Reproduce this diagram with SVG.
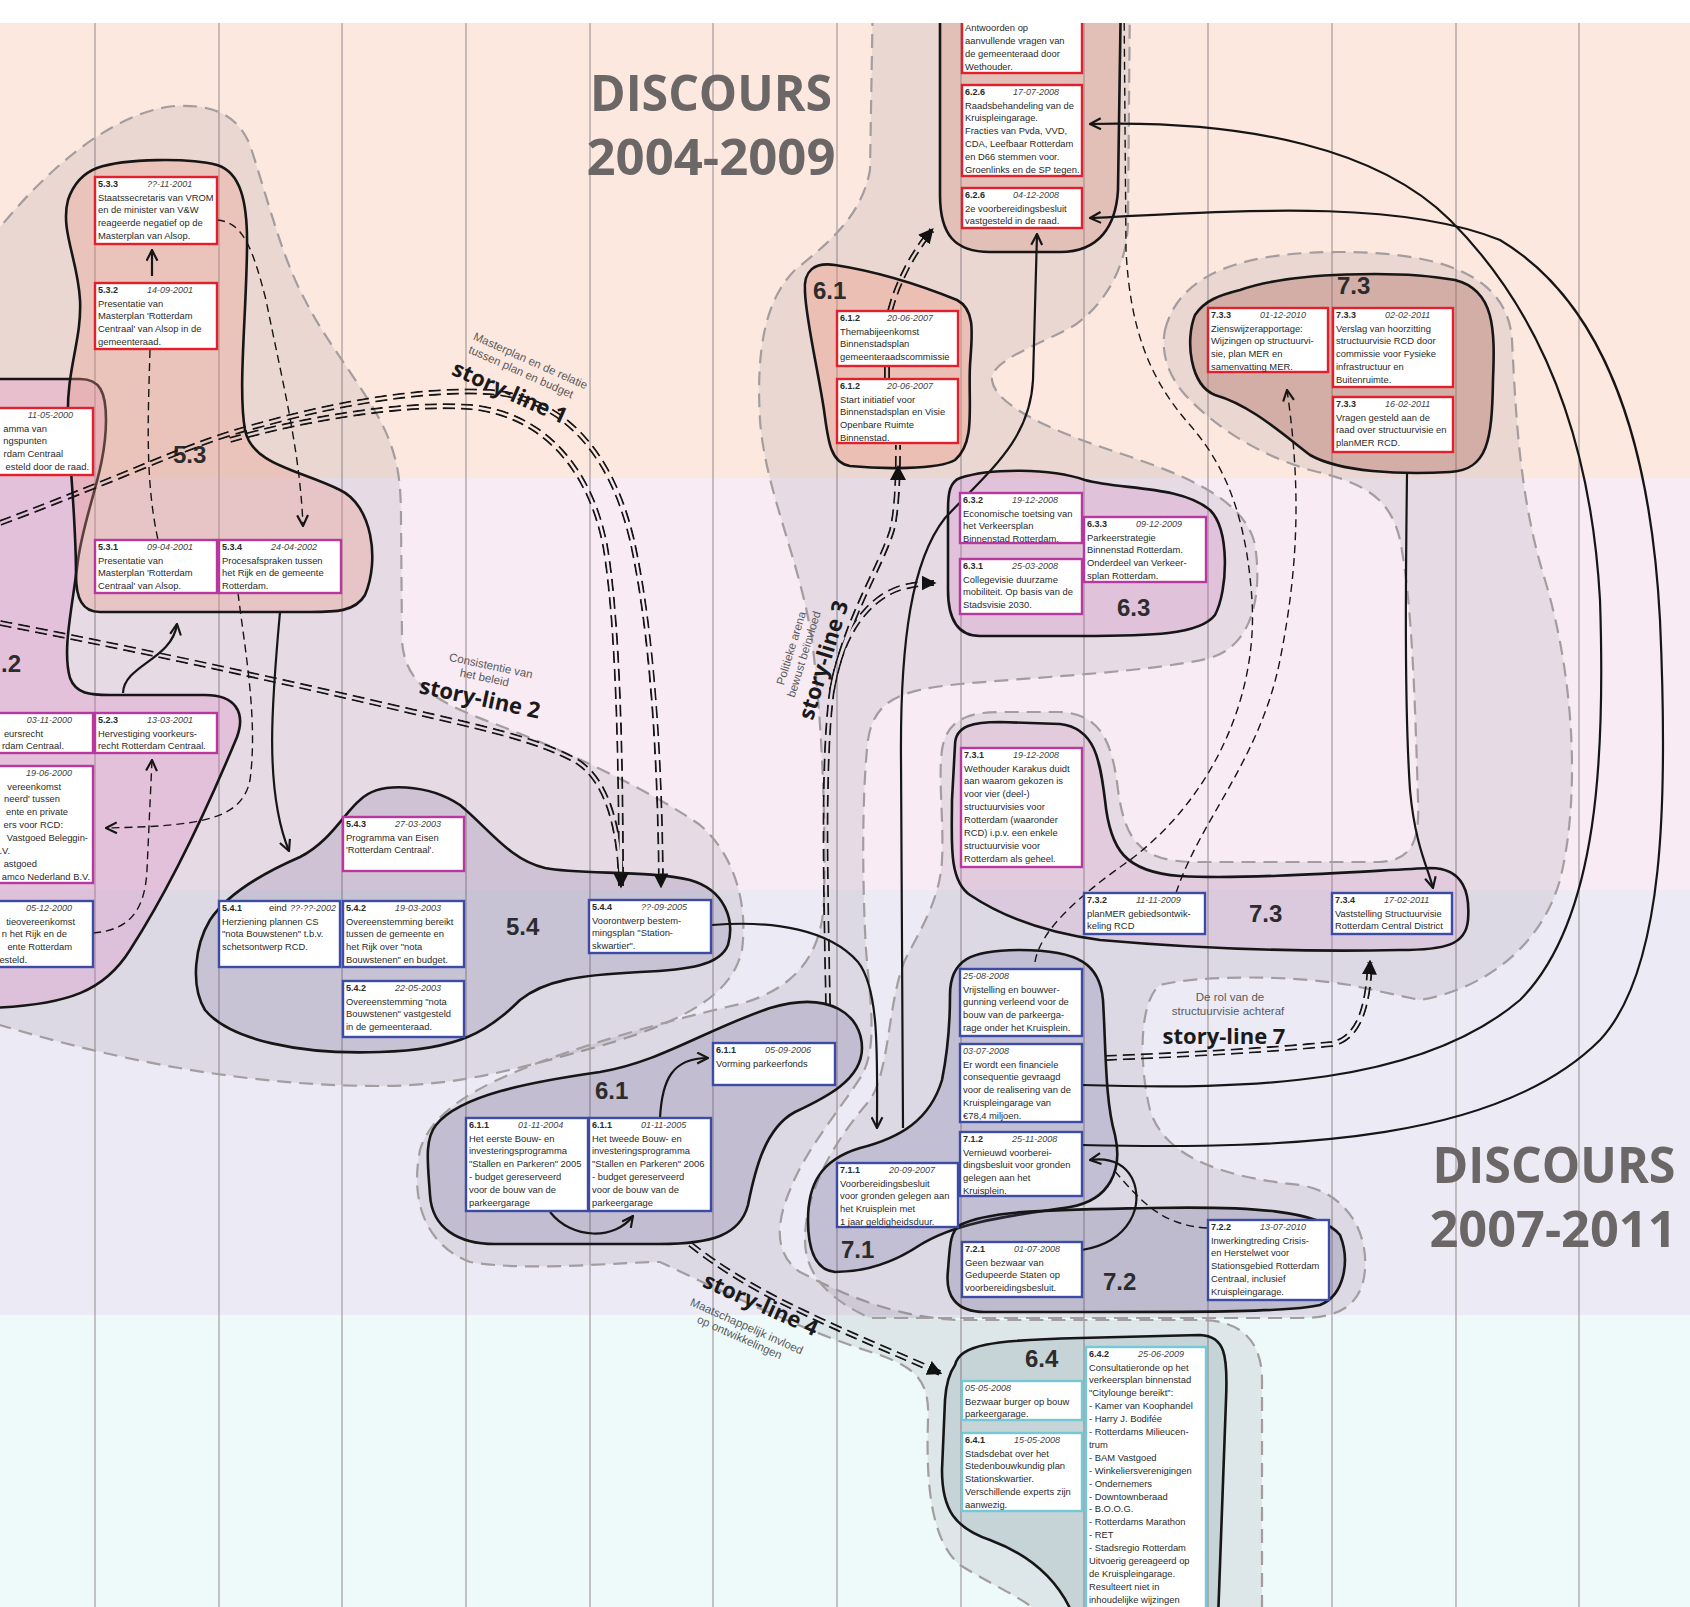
<svg xmlns="http://www.w3.org/2000/svg" width="1690" height="1607" viewBox="0 0 1690 1607">
<defs>
<style>
.vl{stroke:#8b8085;stroke-width:1.3;opacity:.7}
.halo{fill:#5e5060;fill-opacity:.11;stroke:#a39da0;stroke-width:2.2;stroke-dasharray:14 8}
.cl{stroke:#161616;stroke-width:2.6}
.ln{fill:none;stroke:#161616;stroke-width:2.2}
.dl{fill:none;stroke:#161616;stroke-width:1.4;stroke-dasharray:8 5}
.sl{fill:none;stroke:#161616;stroke-width:6;stroke-dasharray:12 6}
.bx{fill:#fff;stroke-width:2.4}
.r{stroke:#e21f2c}.m{stroke:#b8389f}.b{stroke:#3c4ba6}.c{stroke:#74c9d7}
.t{font-family:"Liberation Sans",Arial,sans-serif;font-size:9.4px;fill:#2a2a2a}
.id{font-family:"Liberation Sans",Arial,sans-serif;font-size:9px;font-weight:bold;fill:#2a2a2a}
.dt{font-family:"Liberation Sans",Arial,sans-serif;font-size:9px;font-style:italic;fill:#444}
.lab{font-family:"Liberation Sans",Arial,sans-serif;font-size:24px;font-weight:bold;fill:#2c2c2c}
.ttl{font-family:"Open Sans","Liberation Sans",sans-serif;font-size:51px;font-weight:bold;fill:#6c6767}
.sln{font-family:"Open Sans","Liberation Sans",sans-serif;font-size:22px;font-weight:bold;fill:#1a1a1a}
.sld{font-family:"Liberation Sans",Arial,sans-serif;font-size:11.5px;fill:#5a5a5a}
</style>
<marker id="chev" viewBox="0 0 12 12" refX="11" refY="6" markerWidth="13" markerHeight="13" orient="auto" markerUnits="userSpaceOnUse"><path d="M1,1 L11,6 L1,11" fill="none" stroke="#161616" stroke-width="2"/></marker>
<marker id="tri" viewBox="0 0 12 12" refX="10" refY="6" markerWidth="15" markerHeight="15" orient="auto" markerUnits="userSpaceOnUse"><path d="M0,0 L12,6 L0,12 Z" fill="#111"/></marker>
<!-- story-line routes (drawn as double dashed lines) -->
<path id="sl1a" d="M 0,523 C 30,512 60,500 85,490 C 150,465 200,440 260,425 C 330,405 420,388 490,392 C 565,398 612,455 632,540 C 652,630 660,760 661,886"/>
<path id="sl1b" d="M 230,440 C 300,420 400,402 470,407 C 545,414 590,470 605,545 C 618,620 621,760 621,886"/>
<path id="sl2" d="M 0,623 C 150,652 300,685 410,711 C 480,727 540,740 578,762 C 608,782 620,830 621,886"/>
<path id="sl3a" d="M 828,1005 C 826,900 822,760 832,690 C 842,630 870,598 900,588 C 915,584 925,583 934,583"/>
<path id="sl3b" d="M 832,690 C 845,620 882,565 892,530 C 897,510 898,480 898,445"/>
<path id="sl3c" d="M 887,366 L 887,379"/>
<path id="sl3d" d="M 890,311 C 898,280 915,250 932,230"/>
<path id="sl4" d="M 690,1244 C 720,1268 760,1292 803,1312 C 850,1335 900,1355 940,1373"/>
<path id="sl7" d="M 1105,1058 C 1180,1055 1270,1050 1332,1044 C 1360,1038 1368,1005 1370,962"/>
<mask id="dbl" maskUnits="userSpaceOnUse" x="0" y="0" width="1690" height="1607">
<g fill="none" stroke="#fff" stroke-width="6.5">
<use href="#sl1a"/><use href="#sl1b"/><use href="#sl2"/><use href="#sl3a"/><use href="#sl3b"/><use href="#sl3c"/><use href="#sl3d"/><use href="#sl4"/><use href="#sl7"/>
</g>
<g fill="none" stroke="#000" stroke-width="2.4">
<use href="#sl1a"/><use href="#sl1b"/><use href="#sl2"/><use href="#sl3a"/><use href="#sl3b"/><use href="#sl3c"/><use href="#sl3d"/><use href="#sl4"/><use href="#sl7"/>
</g>
</mask>
</defs>

<!-- background bands and column grid -->
<g id="background">
<rect x="0" y="0" width="1690" height="1607" fill="#fff"/>
<rect x="0" y="23" width="1690" height="455" fill="#fde8e0"/>
<rect x="0" y="478" width="1690" height="412" fill="#f8ebf4"/>
<rect x="0" y="890" width="1690" height="425" fill="#eceaf4"/>
<rect x="0" y="1315" width="1690" height="292" fill="#eef9f9"/>
<g class="vl">
<line x1="95" y1="23" x2="95" y2="1607"/><line x1="219" y1="23" x2="219" y2="1607"/><line x1="342" y1="23" x2="342" y2="1607"/><line x1="466" y1="23" x2="466" y2="1607"/><line x1="590" y1="23" x2="590" y2="1607"/><line x1="713" y1="23" x2="713" y2="1607"/><line x1="837" y1="23" x2="837" y2="1607"/><line x1="961" y1="23" x2="961" y2="1607"/><line x1="1084" y1="23" x2="1084" y2="1607"/><line x1="1208" y1="23" x2="1208" y2="1607"/><line x1="1332" y1="23" x2="1332" y2="1607"/><line x1="1456" y1="23" x2="1456" y2="1607"/><line x1="1579" y1="23" x2="1579" y2="1607"/>
</g>
</g>

<!-- discourse halos -->
<g id="halos">
<path class="halo" d="M -10,240 C 40,175 110,112 175,106 C 215,104 238,116 250,145 C 268,200 282,258 305,300 C 325,340 355,375 380,420 C 398,455 401,480 401,520 L 402,640 C 404,680 430,700 490,722 C 560,748 650,790 700,825 C 735,855 748,905 742,950 C 733,992 690,1020 600,1046 C 520,1068 460,1086 380,1086 C 250,1086 120,1062 -10,1022 Z"/>
<path class="halo" d="M 873,-10 L 870,170 C 862,215 830,242 795,270 C 765,300 756,350 760,420 C 765,490 800,560 812,640 C 822,720 826,820 824,900 C 822,960 790,990 740,1004 C 670,1020 600,1040 540,1062 C 480,1085 432,1110 420,1150 C 410,1200 425,1245 470,1262 C 530,1272 620,1262 660,1262 C 720,1290 800,1330 880,1355 C 915,1368 930,1380 928,1420 C 926,1480 930,1540 960,1565 C 1000,1590 1030,1600 1045,1620 L 1262,1620 L 1262,1380 C 1262,1340 1240,1320 1200,1320 L 960,1320 C 900,1318 850,1298 800,1272 C 775,1255 775,1225 790,1190 C 805,1150 840,1110 862,1075 C 878,1045 870,1000 866,950 C 862,880 862,790 868,740 C 874,700 900,690 960,684 C 1050,676 1150,672 1210,658 C 1255,645 1262,590 1255,545 C 1245,495 1170,470 1110,450 C 1050,430 995,405 992,380 C 990,360 1040,345 1075,325 C 1110,300 1128,260 1128,220 L 1130,-10 Z"/>
<path class="halo" d="M 1165,330 C 1180,270 1250,252 1340,252 C 1440,252 1508,275 1512,340 C 1516,420 1520,500 1545,580 C 1575,680 1580,800 1560,880 C 1540,950 1480,990 1420,1000 L 1350,985 C 1290,975 1200,975 1160,985 C 1140,1000 1138,1060 1150,1110 C 1165,1160 1230,1178 1300,1185 C 1345,1192 1368,1230 1365,1270 C 1362,1305 1340,1318 1300,1318 L 870,1318 C 830,1300 805,1275 805,1240 C 805,1190 835,1140 870,1100 C 890,1070 888,1000 905,960 C 920,930 940,900 942,860 C 944,820 938,780 942,750 C 946,722 965,712 1000,712 L 1060,712 C 1100,714 1112,740 1118,790 C 1125,840 1140,860 1190,862 L 1380,862 C 1410,860 1420,845 1418,800 C 1415,700 1412,600 1400,540 C 1390,495 1360,482 1310,470 C 1260,455 1220,430 1190,400 C 1170,380 1160,355 1165,330 Z"/>
</g>

<!-- clusters -->
<g id="clusters">
<g id="cluster-5-2"><path class="cl" fill="#e07ac0" fill-opacity=".26" d="M -10,379 L 80,379 C 100,379 106,392 106,420 C 106,470 85,510 78,560 C 72,610 62,650 70,678 C 76,694 90,695 110,695 L 205,695 C 235,695 246,712 237,737 C 215,790 175,880 130,950 C 105,990 70,1005 -10,1008 Z"/><text class="lab" x="1" y="672">.2</text></g>
<g id="cluster-5-3"><path class="cl" fill="#eb9c8a" fill-opacity=".33" d="M 97,168 C 125,158 190,158 217,165 C 240,172 248,200 247,250 C 246,320 238,390 245,430 C 252,465 300,470 340,490 C 372,505 380,560 365,595 C 355,612 335,612 310,612 L 100,612 C 82,612 76,598 76,575 C 76,520 70,470 68,420 C 66,370 82,340 80,300 C 78,260 60,230 68,200 C 74,182 84,173 97,168 Z"/><text class="lab" x="173" y="463">5.3</text></g>
<g id="cluster-5-4"><path class="cl" fill="#6a5a8a" fill-opacity=".18" d="M 360,800 C 380,780 430,785 460,805 C 490,830 510,860 545,868 C 580,875 650,870 690,880 C 725,890 735,920 728,945 C 720,965 690,970 640,972 C 580,975 545,980 520,1000 C 490,1030 460,1050 380,1052 C 300,1055 230,1040 205,1010 C 190,985 195,945 210,920 C 230,890 270,870 300,857 C 330,842 345,812 360,800 Z"/><text class="lab" x="506" y="935">5.4</text></g>
<g id="cluster-6-1-top"><path class="cl" fill="#ec9c84" fill-opacity=".4" d="M 805,292 C 803,270 815,262 835,265 C 880,272 925,287 957,300 C 976,310 972,335 970,365 C 968,405 976,442 955,460 C 938,470 880,469 850,466 C 830,463 828,440 824,410 C 818,370 806,320 805,292 Z"/><text class="lab" x="813" y="299">6.1</text></g>
<g id="cluster-6-2"><path class="cl" fill="#d3907f" fill-opacity=".32" d="M 940,-10 L 940,195 C 940,235 955,252 990,252 L 1060,252 C 1100,252 1116,225 1118,190 L 1121,-10 Z"/></g>
<g id="cluster-7-3-top"><path class="cl" fill="#a8665a" fill-opacity=".36" d="M 1240,290 C 1290,272 1400,270 1455,280 C 1495,290 1495,330 1493,380 C 1492,440 1488,470 1450,472 C 1400,475 1340,472 1310,455 C 1280,432 1250,405 1215,395 C 1190,385 1185,340 1195,315 C 1205,300 1220,295 1240,290 Z"/><text class="lab" x="1337" y="294">7.3</text></g>
<g id="cluster-6-3"><path class="cl" fill="#d07ac0" fill-opacity=".25" d="M 960,478 C 990,468 1050,468 1085,480 C 1120,490 1180,485 1210,510 C 1230,530 1228,590 1215,615 C 1200,635 1150,636 1080,636 L 980,636 C 955,636 948,615 948,590 L 948,510 C 948,492 950,482 960,478 Z"/><text class="lab" x="1117" y="616">6.3</text></g>
<g id="cluster-7-3-mid"><path class="cl" fill="#d890c8" fill-opacity=".2" d="M 955,745 C 955,725 975,722 1000,722 L 1060,724 C 1095,728 1100,760 1105,800 C 1110,850 1125,872 1180,876 C 1250,880 1380,870 1430,868 C 1465,868 1470,895 1468,920 C 1466,945 1445,950 1400,950 C 1300,952 1190,948 1100,940 C 1040,932 1000,915 970,895 C 948,880 952,840 952,800 Z"/><text class="lab" x="1249" y="922">7.3</text></g>
<g id="cluster-6-1-bottom"><path class="cl" fill="#5a4f86" fill-opacity=".2" d="M 436,1125 C 460,1095 530,1082 600,1072 C 660,1062 705,1030 770,1008 C 830,990 862,1015 862,1048 C 862,1080 825,1098 795,1112 C 765,1128 755,1170 748,1205 C 740,1235 712,1244 660,1244 L 495,1244 C 458,1244 432,1228 430,1195 C 428,1165 424,1140 436,1125 Z"/><text class="lab" x="595" y="1099">6.1</text></g>
<g id="cluster-7-1"><path class="cl" fill="#5a5590" fill-opacity=".2" d="M 950,995 C 950,960 970,950 1020,950 C 1080,950 1100,965 1103,1000 C 1106,1050 1105,1100 1115,1135 C 1123,1170 1110,1200 1070,1207 C 1020,1215 960,1220 920,1245 C 890,1265 860,1272 835,1272 C 815,1270 808,1250 808,1220 C 808,1185 820,1160 860,1148 C 900,1138 930,1120 942,1080 C 948,1050 950,1020 950,995 Z"/><text class="lab" x="841" y="1258">7.1</text></g>
<g id="cluster-7-2"><path class="cl" fill="#55507e" fill-opacity=".22" d="M 960,1225 C 990,1210 1050,1210 1150,1208 C 1250,1206 1320,1210 1340,1235 C 1350,1260 1345,1295 1320,1305 C 1290,1312 1200,1312 1100,1312 L 985,1312 C 955,1312 945,1295 948,1270 C 950,1245 950,1232 960,1225 Z"/><text class="lab" x="1103" y="1290">7.2</text></g>
<g id="cluster-6-4"><path class="cl" fill="#5f7a80" fill-opacity=".17" d="M 955,1365 C 960,1345 990,1340 1080,1338 L 1200,1335 C 1225,1336 1228,1355 1226,1400 L 1218,1620 L 1075,1620 C 1060,1580 1030,1555 990,1540 C 955,1528 942,1510 942,1470 L 945,1400 C 946,1385 950,1372 955,1365 Z"/><text class="lab" x="1025" y="1367">6.4</text></g>
</g>

<!-- connectors -->
<g id="connectors">
<g mask="url(#dbl)" class="sl">
<use href="#sl1a"/><use href="#sl1b"/><use href="#sl2"/><use href="#sl3a"/><use href="#sl3b"/><use href="#sl3c"/><use href="#sl3d"/><use href="#sl4"/><use href="#sl7"/>
</g>
<g fill="none" stroke="none">
<use href="#sl1a" marker-end="url(#tri)"/><use href="#sl1b" marker-end="url(#tri)"/><use href="#sl3a" marker-end="url(#tri)"/><use href="#sl3d" marker-end="url(#tri)"/><use href="#sl4" marker-end="url(#tri)"/><use href="#sl7" marker-end="url(#tri)"/>
</g>
<polygon points="898,465 890,480 906,480" fill="#111"/>
<g class="ln" marker-end="url(#chev)">
<path d="M 152,276 L 152,250"/>
<path d="M 123,693 C 124,665 172,660 177,624"/>
<path d="M 280,612 C 272,700 264,790 289,851"/>
<path d="M 712,925 C 775,920 830,930 858,962 C 880,990 877,1060 877,1128"/>
<path d="M 903,1128 L 901,760 C 900,640 912,560 945,518 C 990,470 1030,440 1033,380 L 1037,234"/>
<path d="M 660,1118 C 662,1080 672,1058 708,1058"/>
<path d="M 550,1212 C 572,1240 615,1240 633,1216"/>
<path d="M 1082,1085 C 1250,1090 1420,1085 1520,1000 C 1600,920 1605,750 1600,600 C 1590,420 1530,300 1450,220 C 1380,150 1250,120 1090,124"/>
<path d="M 1082,1145 C 1300,1150 1500,1140 1600,1040 C 1665,970 1668,800 1660,620 C 1650,430 1600,300 1500,240 C 1400,200 1250,210 1090,218"/>
<path d="M 1082,1250 C 1130,1242 1145,1205 1132,1178 C 1122,1160 1105,1158 1090,1160"/>
<path d="M 1407,474 C 1406,560 1404,700 1410,790 C 1415,845 1428,868 1433,888"/>
</g>
<g class="dl">
<path d="M 217,220 C 242,222 252,245 266,300 C 282,380 300,450 303,526" marker-end="url(#chev)"/>
<path d="M 150,350 C 148,420 145,480 158,540"/>
<path d="M 238,593 C 245,650 258,720 250,780 C 242,820 200,826 106,828" marker-end="url(#chev)"/>
<path d="M 93,933 C 130,930 145,910 147,870 L 152,760" marker-end="url(#chev)"/>
<path d="M 1207,1228 C 1160,1225 1140,1200 1112,1168"/>
<path d="M 1176,893 C 1200,820 1260,760 1280,660 C 1300,560 1300,480 1287,390" marker-end="url(#chev)"/>
<path d="M 1035,962 C 1040,930 1080,895 1130,860 C 1210,800 1258,700 1252,600 C 1246,510 1222,462 1190,425 C 1150,380 1130,330 1126,250 L 1124,0"/>
</g>
</g>

<!-- event nodes -->
<g id="nodes">
<g id="n-5-3-3"><rect class="bx r" x="95" y="177" width="122" height="67"/><text class="id" x="98" y="187">5.3.3</text><text class="dt" x="147" y="187">??-11-2001</text><text class="t" y="200.5"><tspan x="98">Staatssecretaris van VROM</tspan><tspan x="98" dy="12.9">en de minister van V&amp;W</tspan><tspan x="98" dy="12.9">reageerde negatief op de</tspan><tspan x="98" dy="12.9">Masterplan van Alsop.</tspan></text></g>
<g id="n-5-3-2"><rect class="bx r" x="95" y="283" width="122" height="66"/><text class="id" x="98" y="293">5.3.2</text><text class="dt" x="147" y="293">14-09-2001</text><text class="t" y="306.5"><tspan x="98">Presentatie van</tspan><tspan x="98" dy="12.9">Masterplan 'Rotterdam</tspan><tspan x="98" dy="12.9">Centraal' van Alsop in de</tspan><tspan x="98" dy="12.9">gemeenteraad.</tspan></text></g>
<g id="n-5-2-1"><rect class="bx r" x="-29" y="408" width="122" height="67"/><text class="dt" x="73" y="418" text-anchor="end">11-05-2000</text><text class="t" text-anchor="end"><tspan x="47" y="431.5">amma van</tspan><tspan x="47" y="444.4">ngspunten</tspan><tspan x="63" y="457.3">rdam Centraal</tspan><tspan x="89" y="470.2">esteld door de raad.</tspan></text></g>
<g id="n-6-2-x"><rect class="bx r" x="962" y="-10" width="120" height="83"/><text class="t" y="31"><tspan x="965">Antwoorden op</tspan><tspan x="965" dy="12.9">aanvullende vragen van</tspan><tspan x="965" dy="12.9">de gemeenteraad door</tspan><tspan x="965" dy="12.9">Wethouder.</tspan></text></g>
<g id="n-6-2-6a"><rect class="bx r" x="962" y="85" width="120" height="91"/><text class="id" x="965" y="95">6.2.6</text><text class="dt" x="1013" y="95">17-07-2008</text><text class="t" y="108.5"><tspan x="965">Raadsbehandeling van de</tspan><tspan x="965" dy="12.9">Kruispleingarage.</tspan><tspan x="965" dy="12.9">Fracties van Pvda, VVD,</tspan><tspan x="965" dy="12.9">CDA, Leefbaar Rotterdam</tspan><tspan x="965" dy="12.9">en D66 stemmen voor.</tspan><tspan x="965" dy="12.9">Groenlinks en de SP tegen.</tspan></text></g>
<g id="n-6-2-6b"><rect class="bx r" x="962" y="188" width="120" height="40"/><text class="id" x="965" y="198">6.2.6</text><text class="dt" x="1013" y="198">04-12-2008</text><text class="t" y="211.5"><tspan x="965">2e voorbereidingsbesluit</tspan><tspan x="965" dy="12.9">vastgesteld in de raad.</tspan></text></g>
<g id="n-6-1-2a"><rect class="bx r" x="837" y="311" width="121" height="55"/><text class="id" x="840" y="321">6.1.2</text><text class="dt" x="887" y="321">20-06-2007</text><text class="t" y="334.5"><tspan x="840">Themabijeenkomst</tspan><tspan x="840" dy="12.9">Binnenstadsplan</tspan><tspan x="840" dy="12.9">gemeenteraadscommissie</tspan></text></g>
<g id="n-6-1-2b"><rect class="bx r" x="837" y="379" width="121" height="64"/><text class="id" x="840" y="389">6.1.2</text><text class="dt" x="887" y="389">20-06-2007</text><text class="t" y="402.5"><tspan x="840">Start initiatief voor</tspan><tspan x="840" dy="12.9">Binnenstadsplan en Visie</tspan><tspan x="840" dy="12.9">Openbare Ruimte</tspan><tspan x="840" dy="12.9">Binnenstad.</tspan></text></g>
<g id="n-7-3-3a"><rect class="bx r" x="1208" y="308" width="120" height="64"/><text class="id" x="1211" y="318">7.3.3</text><text class="dt" x="1260" y="318">01-12-2010</text><text class="t" y="331.5"><tspan x="1211">Zienswijzerapportage:</tspan><tspan x="1211" dy="12.9">Wijzingen op structuurvi-</tspan><tspan x="1211" dy="12.9">sie, plan MER en</tspan><tspan x="1211" dy="12.9">samenvatting MER.</tspan></text></g>
<g id="n-7-3-3b"><rect class="bx r" x="1333" y="308" width="120" height="79"/><text class="id" x="1336" y="318">7.3.3</text><text class="dt" x="1385" y="318">02-02-2011</text><text class="t" y="331.5"><tspan x="1336">Verslag van hoorzitting</tspan><tspan x="1336" dy="12.9">structuurvisie RCD door</tspan><tspan x="1336" dy="12.9">commissie voor Fysieke</tspan><tspan x="1336" dy="12.9">infrastructuur en</tspan><tspan x="1336" dy="12.9">Buitenruimte.</tspan></text></g>
<g id="n-7-3-3c"><rect class="bx r" x="1333" y="397" width="120" height="55"/><text class="id" x="1336" y="407">7.3.3</text><text class="dt" x="1385" y="407">16-02-2011</text><text class="t" y="420.5"><tspan x="1336">Vragen gesteld aan de</tspan><tspan x="1336" dy="12.9">raad over structuurvisie en</tspan><tspan x="1336" dy="12.9">planMER RCD.</tspan></text></g>
<g id="n-5-3-1"><rect class="bx m" x="95" y="540" width="122" height="53"/><text class="id" x="98" y="550">5.3.1</text><text class="dt" x="147" y="550">09-04-2001</text><text class="t" y="563.5"><tspan x="98">Presentatie van</tspan><tspan x="98" dy="12.9">Masterplan 'Rotterdam</tspan><tspan x="98" dy="12.9">Centraal' van Alsop.</tspan></text></g>
<g id="n-5-3-4"><rect class="bx m" x="219" y="540" width="122" height="53"/><text class="id" x="222" y="550">5.3.4</text><text class="dt" x="271" y="550">24-04-2002</text><text class="t" y="563.5"><tspan x="222">Procesafspraken tussen</tspan><tspan x="222" dy="12.9">het Rijk en de gemeente</tspan><tspan x="222" dy="12.9">Rotterdam.</tspan></text></g>
<g id="n-5-2-3"><rect class="bx m" x="95" y="713" width="122" height="40"/><text class="id" x="98" y="723">5.2.3</text><text class="dt" x="147" y="723">13-03-2001</text><text class="t" y="736.5"><tspan x="98">Hervestiging voorkeurs-</tspan><tspan x="98" dy="12.9">recht Rotterdam Centraal.</tspan></text></g>
<g id="n-5-2-2"><rect class="bx m" x="-29" y="713" width="122" height="40"/><text class="dt" x="72" y="723" text-anchor="end">03-11-2000</text><text class="t" text-anchor="end"><tspan x="43" y="736.5">eursrecht</tspan><tspan x="64" y="749.4">rdam Centraal.</tspan></text></g>
<g id="n-5-2-x"><rect class="bx m" x="-29" y="766" width="122" height="117"/><text class="dt" x="72" y="776" text-anchor="end">19-06-2000</text><text class="t" text-anchor="end"><tspan x="61" y="789.5">vereenkomst</tspan><tspan x="60" y="802.4">neerd' tussen</tspan><tspan x="68" y="815.3">ente en private</tspan><tspan x="63" y="828.2">ers voor RCD:</tspan><tspan x="88" y="841.1">Vastgoed Beleggin-</tspan><tspan x="10" y="854">.V.</tspan><tspan x="37" y="866.9">astgoed</tspan><tspan x="90" y="879.8">amco Nederland B.V.</tspan></text></g>
<g id="n-5-4-3"><rect class="bx m" x="343" y="817" width="121" height="54"/><text class="id" x="346" y="827">5.4.3</text><text class="dt" x="395" y="827">27-03-2003</text><text class="t" y="840.5"><tspan x="346">Programma van Eisen</tspan><tspan x="346" dy="12.9">'Rotterdam Centraal'.</tspan></text></g>
<g id="n-6-3-2"><rect class="bx m" x="960" y="493" width="122" height="50"/><text class="id" x="963" y="503">6.3.2</text><text class="dt" x="1012" y="503">19-12-2008</text><text class="t" y="516.5"><tspan x="963">Economische toetsing van</tspan><tspan x="963" dy="12.9">het Verkeersplan</tspan><tspan x="963" dy="12.9">Binnenstad Rotterdam.</tspan></text></g>
<g id="n-6-3-1"><rect class="bx m" x="960" y="559" width="122" height="55"/><text class="id" x="963" y="569">6.3.1</text><text class="dt" x="1012" y="569">25-03-2008</text><text class="t" y="582.5"><tspan x="963">Collegevisie duurzame</tspan><tspan x="963" dy="12.9">mobiliteit. Op basis van de</tspan><tspan x="963" dy="12.9">Stadsvisie 2030.</tspan></text></g>
<g id="n-6-3-3"><rect class="bx m" x="1084" y="517" width="122" height="65"/><text class="id" x="1087" y="527">6.3.3</text><text class="dt" x="1136" y="527">09-12-2009</text><text class="t" y="540.5"><tspan x="1087">Parkeerstrategie</tspan><tspan x="1087" dy="12.9">Binnenstad Rotterdam.</tspan><tspan x="1087" dy="12.9">Onderdeel van Verkeer-</tspan><tspan x="1087" dy="12.9">splan Rotterdam.</tspan></text></g>
<g id="n-7-3-1"><rect class="bx m" x="961" y="748" width="121" height="119"/><text class="id" x="964" y="758">7.3.1</text><text class="dt" x="1013" y="758">19-12-2008</text><text class="t" y="771.5"><tspan x="964">Wethouder Karakus duidt</tspan><tspan x="964" dy="12.9">aan waarom gekozen is</tspan><tspan x="964" dy="12.9">voor vier (deel-)</tspan><tspan x="964" dy="12.9">structuurvisies voor</tspan><tspan x="964" dy="12.9">Rotterdam (waaronder</tspan><tspan x="964" dy="12.9">RCD) i.p.v. een enkele</tspan><tspan x="964" dy="12.9">structuurvisie voor</tspan><tspan x="964" dy="12.9">Rotterdam als geheel.</tspan></text></g>
<g id="n-5-2-4"><rect class="bx b" x="-29" y="901" width="122" height="66"/><text class="dt" x="72" y="911" text-anchor="end">05-12-2000</text><text class="t" text-anchor="end"><tspan x="75" y="924.5">tieovereenkomst</tspan><tspan x="67" y="937.4">n het Rijk en de</tspan><tspan x="72" y="950.3">ente Rotterdam</tspan><tspan x="27" y="963.2">esteld.</tspan></text></g>
<g id="n-5-4-1"><rect class="bx b" x="219" y="901" width="121" height="66"/><text class="id" x="222" y="911">5.4.1</text><text class="t" x="269" y="911">eind</text><text class="dt" x="290" y="911">??-??-2002</text><text class="t" y="924.5"><tspan x="222">Herziening plannen CS</tspan><tspan x="222" dy="12.9">"nota Bouwstenen" t.b.v.</tspan><tspan x="222" dy="12.9">schetsontwerp RCD.</tspan></text></g>
<g id="n-5-4-2a"><rect class="bx b" x="343" y="901" width="121" height="66"/><text class="id" x="346" y="911">5.4.2</text><text class="dt" x="395" y="911">19-03-2003</text><text class="t" y="924.5"><tspan x="346">Overeenstemming bereikt</tspan><tspan x="346" dy="12.9">tussen de gemeente en</tspan><tspan x="346" dy="12.9">het Rijk over "nota</tspan><tspan x="346" dy="12.9">Bouwstenen" en budget.</tspan></text></g>
<g id="n-5-4-2b"><rect class="bx b" x="343" y="981" width="121" height="56"/><text class="id" x="346" y="991">5.4.2</text><text class="dt" x="395" y="991">22-05-2003</text><text class="t" y="1004.5"><tspan x="346">Overeenstemming "nota</tspan><tspan x="346" dy="12.9">Bouwstenen" vastgesteld</tspan><tspan x="346" dy="12.9">in de gemeenteraad.</tspan></text></g>
<g id="n-5-4-4"><rect class="bx b" x="589" y="900" width="122" height="53"/><text class="id" x="592" y="910">5.4.4</text><text class="dt" x="641" y="910">??-09-2005</text><text class="t" y="923.5"><tspan x="592">Voorontwerp bestem-</tspan><tspan x="592" dy="12.9">mingsplan "Station-</tspan><tspan x="592" dy="12.9">skwartier".</tspan></text></g>
<g id="n-6-1-1c"><rect class="bx b" x="713" y="1043" width="122" height="42"/><text class="id" x="716" y="1053">6.1.1</text><text class="dt" x="765" y="1053">05-09-2006</text><text class="t" y="1066.5"><tspan x="716">Vorming parkeerfonds</tspan></text></g>
<g id="n-6-1-1a"><rect class="bx b" x="466" y="1118" width="122" height="93"/><text class="id" x="469" y="1128">6.1.1</text><text class="dt" x="518" y="1128">01-11-2004</text><text class="t" y="1141.5"><tspan x="469">Het eerste Bouw- en</tspan><tspan x="469" dy="12.9">investeringsprogramma</tspan><tspan x="469" dy="12.9">"Stallen en Parkeren" 2005</tspan><tspan x="469" dy="12.9">- budget gereserveerd</tspan><tspan x="469" dy="12.9">voor de bouw van de</tspan><tspan x="469" dy="12.9">parkeergarage</tspan></text></g>
<g id="n-6-1-1b"><rect class="bx b" x="589" y="1118" width="122" height="93"/><text class="id" x="592" y="1128">6.1.1</text><text class="dt" x="641" y="1128">01-11-2005</text><text class="t" y="1141.5"><tspan x="592">Het tweede Bouw- en</tspan><tspan x="592" dy="12.9">investeringsprogramma</tspan><tspan x="592" dy="12.9">"Stallen en Parkeren" 2006</tspan><tspan x="592" dy="12.9">- budget gereserveerd</tspan><tspan x="592" dy="12.9">voor de bouw van de</tspan><tspan x="592" dy="12.9">parkeergarage</tspan></text></g>
<g id="n-7-1-a"><rect class="bx b" x="960" y="969" width="122" height="67"/><text class="dt" x="963" y="979">25-08-2008</text><text class="t" y="992.5"><tspan x="963">Vrijstelling en bouwver-</tspan><tspan x="963" dy="12.9">gunning verleend voor de</tspan><tspan x="963" dy="12.9">bouw van de parkeerga-</tspan><tspan x="963" dy="12.9">rage onder het Kruisplein.</tspan></text></g>
<g id="n-7-1-b"><rect class="bx b" x="960" y="1044" width="122" height="78"/><text class="dt" x="963" y="1054">03-07-2008</text><text class="t" y="1067.5"><tspan x="963">Er wordt een financiele</tspan><tspan x="963" dy="12.9">consequentie gevraagd</tspan><tspan x="963" dy="12.9">voor de realisering van de</tspan><tspan x="963" dy="12.9">Kruispleingarage van</tspan><tspan x="963" dy="12.9">€78,4 miljoen.</tspan></text></g>
<g id="n-7-1-2"><rect class="bx b" x="960" y="1132" width="122" height="64"/><text class="id" x="963" y="1142">7.1.2</text><text class="dt" x="1012" y="1142">25-11-2008</text><text class="t" y="1155.5"><tspan x="963">Vernieuwd voorberei-</tspan><tspan x="963" dy="12.9">dingsbesluit voor gronden</tspan><tspan x="963" dy="12.9">gelegen aan het</tspan><tspan x="963" dy="12.9">Kruisplein.</tspan></text></g>
<g id="n-7-1-1"><rect class="bx b" x="837" y="1163" width="121" height="64"/><text class="id" x="840" y="1173">7.1.1</text><text class="dt" x="889" y="1173">20-09-2007</text><text class="t" y="1186.5"><tspan x="840">Voorbereidingsbesluit</tspan><tspan x="840" dy="12.9">voor gronden gelegen aan</tspan><tspan x="840" dy="12.9">het Kruisplein met</tspan><tspan x="840" dy="12.9">1 jaar geldigheidsduur.</tspan></text></g>
<g id="n-7-2-1"><rect class="bx b" x="962" y="1242" width="120" height="55"/><text class="id" x="965" y="1252">7.2.1</text><text class="dt" x="1014" y="1252">01-07-2008</text><text class="t" y="1265.5"><tspan x="965">Geen bezwaar van</tspan><tspan x="965" dy="12.9">Gedupeerde Staten op</tspan><tspan x="965" dy="12.9">voorbereidingsbesluit.</tspan></text></g>
<g id="n-7-2-2"><rect class="bx b" x="1208" y="1220" width="121" height="80"/><text class="id" x="1211" y="1230">7.2.2</text><text class="dt" x="1260" y="1230">13-07-2010</text><text class="t" y="1243.5"><tspan x="1211">Inwerkingtreding Crisis-</tspan><tspan x="1211" dy="12.9">en Herstelwet voor</tspan><tspan x="1211" dy="12.9">Stationsgebied Rotterdam</tspan><tspan x="1211" dy="12.9">Centraal, inclusief</tspan><tspan x="1211" dy="12.9">Kruispleingarage.</tspan></text></g>
<g id="n-7-3-2"><rect class="bx b" x="1084" y="893" width="121" height="41"/><text class="id" x="1087" y="903">7.3.2</text><text class="dt" x="1136" y="903">11-11-2009</text><text class="t" y="916.5"><tspan x="1087">planMER gebiedsontwik-</tspan><tspan x="1087" dy="12.9">keling RCD</tspan></text></g>
<g id="n-7-3-4"><rect class="bx b" x="1332" y="893" width="120" height="41"/><text class="id" x="1335" y="903">7.3.4</text><text class="dt" x="1384" y="903">17-02-2011</text><text class="t" y="916.5"><tspan x="1335">Vaststelling Structuurvisie</tspan><tspan x="1335" dy="12.9">Rotterdam Central District</tspan></text></g>
<g id="n-6-4-x"><rect class="bx c" x="962" y="1381" width="120" height="39"/><text class="dt" x="965" y="1391">05-05-2008</text><text class="t" y="1404.5"><tspan x="965">Bezwaar burger op bouw</tspan><tspan x="965" dy="12.9">parkeergarage.</tspan></text></g>
<g id="n-6-4-1"><rect class="bx c" x="962" y="1433" width="120" height="78"/><text class="id" x="965" y="1443">6.4.1</text><text class="dt" x="1014" y="1443">15-05-2008</text><text class="t" y="1456.5"><tspan x="965">Stadsdebat over het</tspan><tspan x="965" dy="12.9">Stedenbouwkundig plan</tspan><tspan x="965" dy="12.9">Stationskwartier.</tspan><tspan x="965" dy="12.9">Verschillende experts zijn</tspan><tspan x="965" dy="12.9">aanwezig.</tspan></text></g>
<g id="n-6-4-2"><rect class="bx c" x="1086" y="1347" width="120" height="275"/><text class="id" x="1089" y="1357">6.4.2</text><text class="dt" x="1138" y="1357">25-06-2009</text><text class="t" y="1370.5"><tspan x="1089">Consultatieronde op het</tspan><tspan x="1089" dy="12.9">verkeersplan binnenstad</tspan><tspan x="1089" dy="12.9">"Citylounge bereikt":</tspan><tspan x="1089" dy="12.9">- Kamer van Koophandel</tspan><tspan x="1089" dy="12.9">- Harry J. Bodifée</tspan><tspan x="1089" dy="12.9">- Rotterdams Milieucen-</tspan><tspan x="1089" dy="12.9">trum</tspan><tspan x="1089" dy="12.9">- BAM Vastgoed</tspan><tspan x="1089" dy="12.9">- Winkeliersverenigingen</tspan><tspan x="1089" dy="12.9">- Ondernemers</tspan><tspan x="1089" dy="12.9">- Downtownberaad</tspan><tspan x="1089" dy="12.9">- B.O.O.G.</tspan><tspan x="1089" dy="12.9">- Rotterdams Marathon</tspan><tspan x="1089" dy="12.9">- RET</tspan><tspan x="1089" dy="12.9">- Stadsregio Rotterdam</tspan><tspan x="1089" dy="12.9">Uitvoerig gereageerd op</tspan><tspan x="1089" dy="12.9">de Kruispleingarage.</tspan><tspan x="1089" dy="12.9">Resulteert niet in</tspan><tspan x="1089" dy="12.9">inhoudelijke wijzingen</tspan></text></g>
</g>

<!-- titles and story-line captions -->
<g id="titles">
<text class="ttl" x="711" y="111" text-anchor="middle" textLength="242" lengthAdjust="spacingAndGlyphs">DISCOURS</text>
<text class="ttl" x="711" y="175" text-anchor="middle" textLength="249" lengthAdjust="spacingAndGlyphs">2004-2009</text>
<text class="ttl" x="1554" y="1183" text-anchor="middle" textLength="243" lengthAdjust="spacingAndGlyphs">DISCOURS</text>
<text class="ttl" x="1553" y="1247" text-anchor="middle" textLength="247" lengthAdjust="spacingAndGlyphs">2007-2011</text>
<g transform="translate(510,392) rotate(24)" text-anchor="middle"><text class="sld" x="6" y="-33">Masterplan en de relatie</text><text class="sld" x="2" y="-19">tussen plan en budget</text><text class="sln" x="0" y="8">story-line 1</text></g>
<g transform="translate(480,698) rotate(12)" text-anchor="middle"><text class="sld" x="4" y="-30">Consistentie van</text><text class="sld" x="0" y="-17">het beleid</text><text class="sln" x="0" y="8">story-line 2</text></g>
<g transform="translate(823,660) rotate(-73)" text-anchor="middle"><text class="sld" x="2" y="-30">Politieke arena</text><text class="sld" x="0" y="-16">bewust beïnvloed</text><text class="sln" x="0" y="8">story-line 3</text></g>
<g transform="translate(761,1304) rotate(24)" text-anchor="middle"><text class="sln" x="0" y="8">story-line 4</text><text class="sld" x="-4" y="30">Maatschappelijk invloed</text><text class="sld" x="-6" y="43">op ontwikkelingen</text></g>
<g text-anchor="middle"><text class="sld" x="1230" y="1001">De rol van de</text><text class="sld" x="1228" y="1015">structuurvisie achteraf</text><text class="sln" x="1224" y="1044">story-line 7</text></g>
</g>

<rect x="0" y="0" width="1690" height="23" fill="#fff"/>
</svg>
